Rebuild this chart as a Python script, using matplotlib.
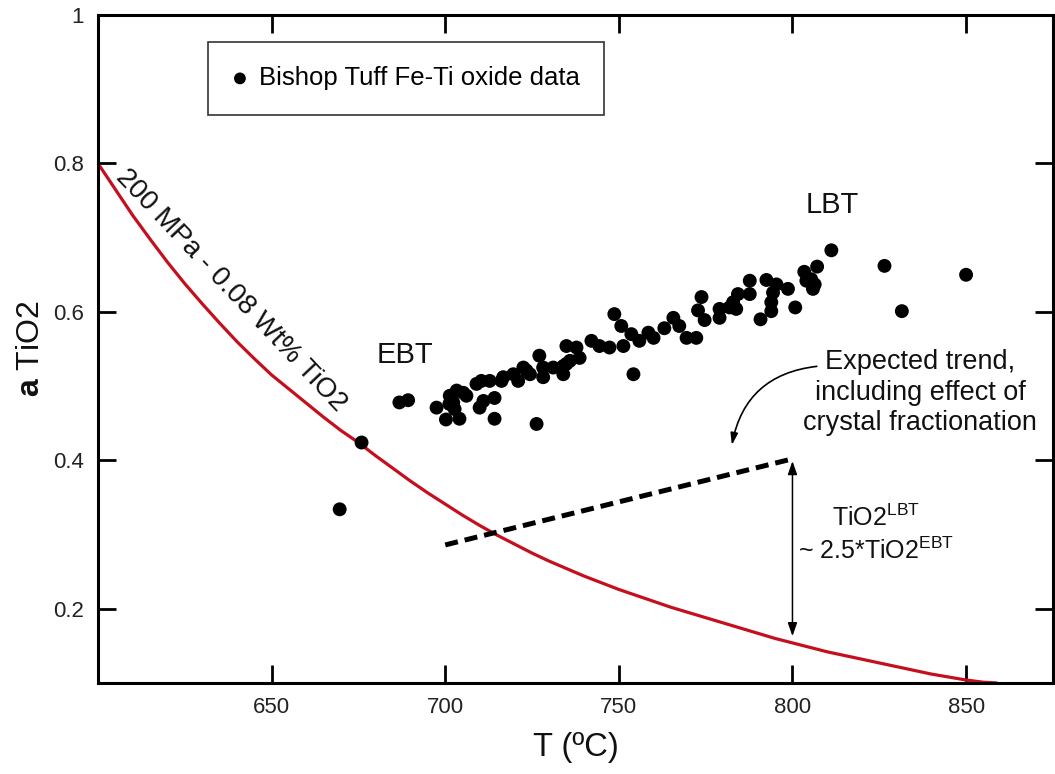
import numpy as np
import matplotlib
matplotlib.use("Agg")
import matplotlib.pyplot as plt

plt.rcParams['font.family'] = ['Liberation Sans', 'DejaVu Sans']
plt.rcParams['mathtext.fontset'] = 'custom'
plt.rcParams['mathtext.rm'] = 'Liberation Sans'
plt.rcParams['mathtext.bf'] = 'Liberation Sans:bold'
plt.rcParams['mathtext.it'] = 'Liberation Sans:italic'

# -----------------------------
# data
# -----------------------------
# Bishop Tuff Fe-Ti oxide data (T in degC, aTiO2)
temp_c = [669.6, 675.9, 686.8, 689.3, 697.5, 700.2, 701.2, 701.3, 702.3, 702.7,
          703.3, 704.1, 705.2, 706.1, 709.0, 709.9, 710.4, 711.0, 712.8, 714.2,
          714.2, 716.2, 716.7, 719.6, 721.0, 722.5, 723.4, 724.4, 726.3, 727.1,
          728.2, 728.2, 731.1, 734.0, 734.0, 734.9, 735.9, 734.9, 737.8, 738.7,
          742.1, 744.4, 747.3, 751.3, 748.7, 750.7, 753.6, 754.2, 755.9, 758.5,
          760.0, 763.1, 765.7, 767.4, 769.5, 772.3, 772.8, 773.8, 774.7, 779.0,
          779.0, 781.9, 782.9, 783.8, 784.3, 787.7, 787.7, 790.8, 792.5, 795.4,
          793.9, 794.4, 793.9, 798.7, 800.8, 803.4, 804.0, 805.4, 805.9, 806.4,
          807.1, 811.2, 826.5, 831.5, 850.0]
a_tio2 = [0.334, 0.424, 0.478, 0.481, 0.471, 0.455, 0.476, 0.487, 0.478, 0.469,
          0.494, 0.456, 0.491, 0.487, 0.503, 0.471, 0.507, 0.480, 0.507, 0.456,
          0.484, 0.507, 0.512, 0.516, 0.507, 0.525, 0.521, 0.516, 0.449, 0.541,
          0.525, 0.512, 0.525, 0.527, 0.516, 0.530, 0.534, 0.554, 0.552, 0.538,
          0.561, 0.554, 0.552, 0.554, 0.597, 0.581, 0.570, 0.516, 0.561, 0.572,
          0.565, 0.578, 0.592, 0.581, 0.565, 0.565, 0.602, 0.620, 0.589, 0.604,
          0.592, 0.606, 0.613, 0.604, 0.624, 0.642, 0.624, 0.590, 0.643, 0.637,
          0.613, 0.626, 0.601, 0.631, 0.606, 0.654, 0.642, 0.644, 0.631, 0.637,
          0.661, 0.683, 0.662, 0.601, 0.650]

# 200 MPa - 0.08 wt% TiO2 model curve (read every 5 degC)
curve_t = [600, 605, 610, 615, 620, 625, 630, 635, 640, 645, 650, 655, 660, 665,
           670, 675, 680, 685, 690, 695, 700, 705, 710, 715, 720, 725, 730, 735,
           740, 745, 750, 755, 760, 765, 770, 775, 780, 785, 790, 795, 800, 805,
           810, 815, 820, 825, 830, 835, 840, 845, 850, 855, 859]
curve_a = [0.800, 0.765, 0.730, 0.698, 0.667, 0.638, 0.611, 0.585, 0.560, 0.537,
           0.515, 0.496, 0.477, 0.458, 0.440, 0.424, 0.406, 0.389, 0.372, 0.356,
           0.341, 0.326, 0.312, 0.299, 0.287, 0.275, 0.264, 0.254, 0.244, 0.235,
           0.226, 0.218, 0.210, 0.202, 0.195, 0.188, 0.181, 0.174, 0.167, 0.160,
           0.154, 0.148, 0.142, 0.137, 0.132, 0.127, 0.122, 0.117, 0.112, 0.108,
           0.104, 0.101, 0.100]

# expected trend (dashed)
trend_t = [700, 800]
trend_a = [0.286, 0.402]

# -----------------------------
# plot
# -----------------------------
fig = plt.figure(figsize=(10.55, 7.74), dpi=100)
ax = fig.add_axes([0.0929, 0.1176, 0.9051, 0.863])

ax.plot(curve_t, curve_a, color='#c4101e', lw=2.3, solid_capstyle='butt', zorder=2)
ax.plot(trend_t, trend_a, color='black', lw=3.6, dashes=[2.6, 1.4], zorder=2)
ax.scatter(temp_c, a_tio2, s=100, color='black', edgecolors='none', zorder=3,
           label='Bishop Tuff Fe-Ti oxide data')

ax.set_xlim(600, 875)
ax.set_ylim(0.1, 1.0)
ax.set_xticks([650, 700, 750, 800, 850])
ax.set_yticks([0.2, 0.4, 0.6, 0.8, 1.0])
ax.set_yticklabels(['0.2', '0.4', '0.6', '0.8', '1'])
ax.tick_params(direction='in', length=13, width=2, top=True, right=True,
               labelsize=16, labelcolor='#222222', pad=10)
for s in ax.spines.values():
    s.set_linewidth(2.2)

ax.set_xlabel('T (ºC)', fontsize=23.5, labelpad=10, color='#111111')
ax.set_ylabel(r'$\mathbf{a}$ TiO2', fontsize=23, labelpad=5, color='#111111')

leg = ax.legend(loc='upper left', bbox_to_anchor=(0.115, 0.96), fontsize=18.5,
                frameon=True, fancybox=False, framealpha=1, edgecolor='#333333',
                handlelength=0.6, handletextpad=0.45, borderpad=0.95,
                markerscale=0.85, borderaxespad=0)
leg.get_frame().set_linewidth(1.2)

ax.text(688.4, 0.542, 'EBT', fontsize=21, ha='center', va='center', color='#111111')
ax.text(811.4, 0.744, 'LBT', fontsize=21, ha='center', va='center', color='#111111')

ax.text(638.4, 0.629, '200 MPa - 0.08 Wt% TiO2', fontsize=20, rotation=-46.6,
        rotation_mode='anchor', ha='center', va='center', color='#111111')

ax.text(836.8, 0.491, 'Expected trend,\nincluding effect of\ncrystal fractionation',
        fontsize=19.5, ha='center', va='center', linespacing=1.22, color='#111111')
ax.annotate('', xy=(782.4, 0.417), xytext=(807.8, 0.527),
            arrowprops=dict(arrowstyle='-|>,head_length=0.7,head_width=0.22',
                            connectionstyle='arc3,rad=0.38', color='black', lw=1.2))

ax.annotate('', xy=(800, 0.163), xytext=(800, 0.399),
            arrowprops=dict(arrowstyle='<|-|>,head_length=0.8,head_width=0.28',
                            color='black', lw=1.1, shrinkA=0, shrinkB=0))
ax.text(824.1, 0.300, 'TiO2$^{\\mathrm{LBT}}$\n~ 2.5*TiO2$^{\\mathrm{EBT}}$',
        fontsize=18, ha='center', va='center', multialignment='center',
        linespacing=1.3, color='#111111')

fig.savefig('out.png', dpi=100)
